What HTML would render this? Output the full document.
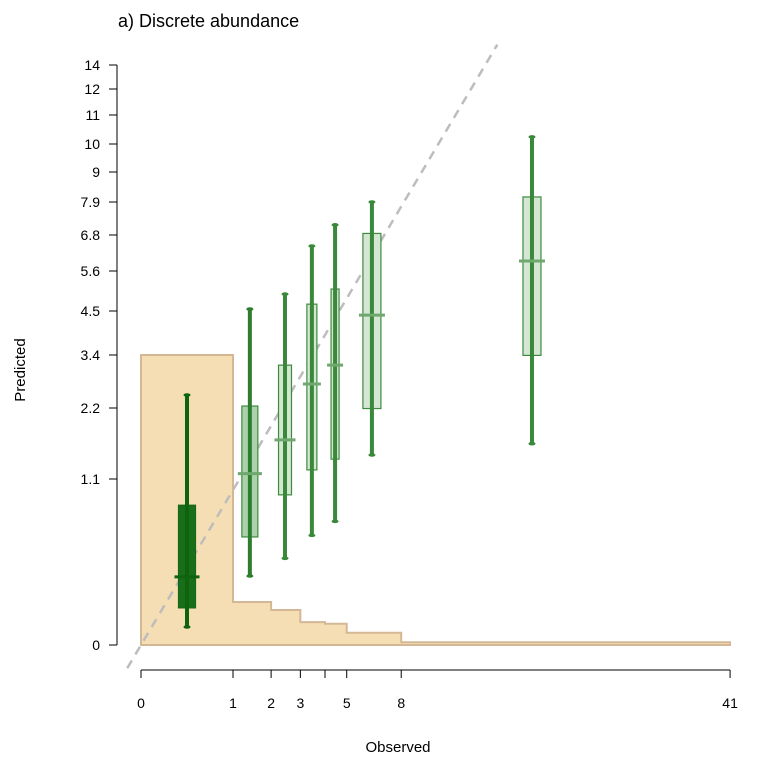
<!DOCTYPE html>
<html><head><meta charset="utf-8"><style>
html,body{margin:0;padding:0;background:#fff;}
svg{display:block;font-family:"Liberation Sans",Arial,sans-serif;}
</style></head><body>
<svg id="chart" width="760" height="763" viewBox="0 0 760 763" xmlns="http://www.w3.org/2000/svg">
<text x="118" y="27" font-size="18" fill="#000">a) Discrete abundance</text>
<text x="25" y="370" font-size="15" text-anchor="middle" transform="rotate(-90 25 370)">Predicted</text>
<text x="398" y="752" font-size="15" text-anchor="middle">Observed</text>
<g id="hist"></g>
<g id="diag"></g>
<g id="boxes"></g>
<g id="yaxis"></g>
<g id="xaxis"></g>
</svg>
<script>
// y-axis tick values and labels
const yTicks = [0, 1.1, 2.2, 3.4, 4.5, 5.6, 6.8, 7.9, 9, 10, 11, 12, 14];
const yTickLabels = ["0","1.1","2.2","3.4","4.5","5.6","6.8","7.9","9","10","11","12","14"];
// x-axis tick values
const xTicks = [0, 1, 2, 3, 4, 5, 8, 41];
const xTickLabels = ["0","1","2","3","","5","8","41"];
// histogram bins of observed values
const histEdges = [0, 1, 2, 3, 4, 5, 8, 41];
const histHeights = [3.4, 0.074, 0.049, 0.021, 0.018, 0.006, 0.0003];
// boxplot series
const boxObs = [0.25, 1.40, 2.45, 3.45, 4.45, 6.30, 18.06];
const boxWhiskerLow = [0.013, 0.19, 0.30, 0.48, 0.61, 1.43, 1.60];
const boxQ1 = [0.055, 0.466, 0.90, 1.22, 1.37, 2.19, 3.39];
const boxMedian = [0.185, 1.17, 1.66, 2.71, 3.15, 4.39, 5.92];
const boxQ3 = [0.78, 2.24, 3.15, 4.68, 5.09, 6.85, 8.08];
const boxWhiskerHigh = [2.47, 4.55, 4.95, 6.42, 7.13, 7.9, 10.24];

// styling (not data)
const boxHalfW = [8.5, 8, 6.5, 5, 4, 9, 9];
const boxFill = ["#1a6e1a","#abd2ab","#d3e7d3","#d3e7d3","#d3e7d3","#d3e7d3","#d3e7d3"];
const boxStroke = ["#156815","#3f8a3f","#3f8a3f","#3f8a3f","#3f8a3f","#3f8a3f","#3f8a3f"];
const whiskColor = ["#0e640e","#2e7d2e","#3a883a","#3a883a","#3a883a","#3a883a","#3a883a"];
const yPix = [645,479,408,355,311,271,235,202,172,144,115,89,65];

const NS = "http://www.w3.org/2000/svg";
function mk(tag, attrs, parent){const e=document.createElementNS(NS,tag);for(const k in attrs)e.setAttribute(k,attrs[k]);parent.appendChild(e);return e;}
function x(v){return 141 + 92*Math.sqrt(Math.max(0,v));}
function y(v){
  const s = Math.sqrt(Math.max(0,v));
  const ts = yTicks.map(Math.sqrt);
  let i = 0;
  while (i < ts.length-2 && s > ts[i+1]) i++;
  const t = (s - ts[i])/(ts[i+1]-ts[i]);
  return yPix[i] + t*(yPix[i+1]-yPix[i]);
}

// histogram
const hist = document.getElementById('hist');
let d = "M" + x(histEdges[0]) + "," + y(0);
for (let i=0;i<histHeights.length;i++){
  d += " L" + x(histEdges[i]) + "," + y(histHeights[i]) + " L" + x(histEdges[i+1]) + "," + y(histHeights[i]);
}
d += " L" + x(histEdges[histEdges.length-1]) + "," + y(0) + " Z";
const hp = mk('path',{d:d,fill:"#f5deb3",stroke:"#d4b896","stroke-width":2},hist);



// identity line
const diag = document.getElementById('diag');
const x0=x(0),y0=y(0),x1=x(14),y1=y(14);
const ta=-0.04, tb=1.035;
const dl = mk('line',{x1:x0+ta*(x1-x0),y1:y0+ta*(y1-y0),x2:x0+tb*(x1-x0),y2:y0+tb*(y1-y0),stroke:"#bdbdbd","stroke-width":2.5,"stroke-dasharray":"9,7"},diag);



// boxes
const boxes = document.getElementById('boxes');
for (let i=0;i<boxObs.length;i++){
  const g = mk('g',{},boxes);
  
  
  const cx = x(boxObs[i]), hw = boxHalfW[i];
  mk('rect',{x:cx-hw,y:y(boxQ3[i]),width:2*hw,height:y(boxQ1[i])-y(boxQ3[i]),fill:boxFill[i],stroke:boxStroke[i],"stroke-width":1.2},g);
  mk('line',{x1:cx,x2:cx,y1:y(boxWhiskerHigh[i]),y2:y(boxWhiskerLow[i]),stroke:whiskColor[i],"stroke-width":4},g);
  mk('ellipse',{cx:cx,cy:y(boxWhiskerHigh[i]),rx:3.5,ry:1.8,fill:whiskColor[i]},g);
  mk('ellipse',{cx:cx,cy:y(boxWhiskerLow[i]),rx:3.5,ry:1.8,fill:whiskColor[i]},g);
  mk('line',{x1:cx-hw-4,x2:cx+hw+4,y1:y(boxMedian[i]),y2:y(boxMedian[i]),stroke:i===0?"#0e640e":"#6fa86f","stroke-width":3},g);
}

// y axis
const ya = document.getElementById('yaxis');
mk('line',{x1:117,x2:117,y1:y(yTicks[yTicks.length-1]),y2:y(0),stroke:"#000","stroke-width":1},ya);
yTicks.forEach((v,i)=>{
  const t = mk('g',{},ya);
  
  
  mk('line',{x1:109,x2:117,y1:y(v),y2:y(v),stroke:"#000","stroke-width":1},t);
  const tx = mk('text',{x:100,y:y(v)+5,"font-size":14,"text-anchor":"end"},t);
  tx.textContent = yTickLabels[i];
});

// x axis
const xa = document.getElementById('xaxis');
mk('line',{x1:x(0),x2:x(41),y1:670,y2:670,stroke:"#000","stroke-width":1},xa);
xTicks.forEach((v,i)=>{
  const t = mk('g',{},xa);
  
  
  mk('line',{x1:x(v),x2:x(v),y1:670,y2:678,stroke:"#000","stroke-width":1},t);
  const tx = mk('text',{x:x(v),y:708,"font-size":14,"text-anchor":"middle"},t);
  tx.textContent = xTickLabels[i];
});
</script>
</body></html>
